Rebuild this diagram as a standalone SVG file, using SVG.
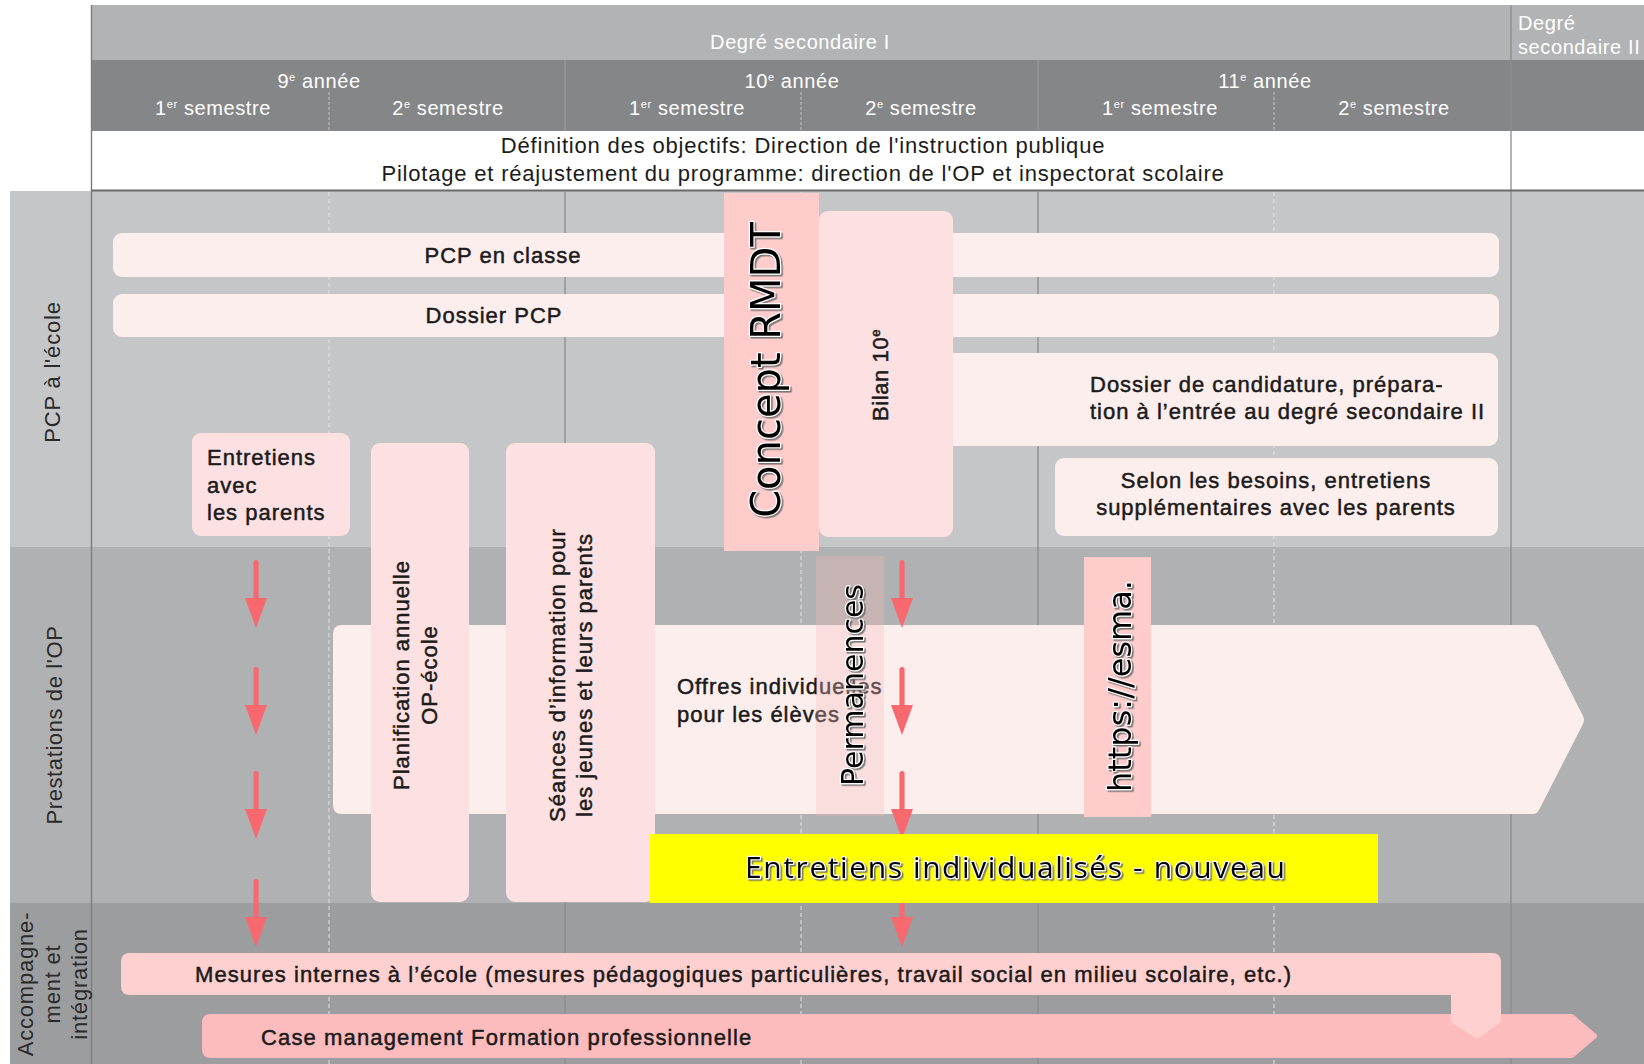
<svg xmlns="http://www.w3.org/2000/svg" width="1644" height="1064" viewBox="0 0 1644 1064">
<defs>
<style>
.t{font-family:"Liberation Sans",Arial,Helvetica,sans-serif;font-size:22px;letter-spacing:1px;fill:#1b1b1b}
.m{stroke:#1b1b1b;stroke-width:0.5px}
.h{font-family:"Liberation Sans",Arial,Helvetica,sans-serif;font-size:20px;letter-spacing:0.6px;fill:#ffffff}
.lab{font-family:"Liberation Sans",Arial,Helvetica,sans-serif;font-size:22px;letter-spacing:0.8px;fill:#2a2a2a}
.wa{font-family:"DejaVu Sans",Verdana,sans-serif;fill:#000;stroke:#fff;stroke-width:2.4px;paint-order:stroke;stroke-linejoin:round}
.wb{font-family:"Open Sans","Noto Sans",sans-serif;fill:#000;stroke:#fff;stroke-width:2.4px;paint-order:stroke;stroke-linejoin:round}
.pk1{fill:#fdeeee}
.pk2{fill:#fde1e2}
.pk3{fill:#ffcccc}
.gd{stroke:#e2e2e2;stroke-width:1;stroke-dasharray:4 3;fill:none}
.gdh{stroke:#c4c4c4;stroke-width:1;stroke-dasharray:3 2;fill:none}
.gs{stroke:#8b8c8e;stroke-width:1.3;fill:none}
.arr{fill:#f7696f}
</style>
<filter id="sh" x="-10%" y="-10%" width="130%" height="130%">
<feDropShadow dx="1.6" dy="1.6" stdDeviation="0.5" flood-color="#6e6e6e" flood-opacity="0.9"/>
</filter>
<g id="arrowShape">
<path d="M-2.6 2.6 A2.6 2.6 0 0 1 2.6 2.6 V40 H-2.6 Z"/>
<path d="M-11 38 H11 L0 68 Z"/>
</g>
</defs>

<g id="background">
<rect x="0" y="0" width="1644" height="1064" fill="#ffffff"/>
<rect x="91" y="5" width="1553" height="55" fill="#b2b3b5"/>
<rect x="91" y="60" width="1553" height="71" fill="#858688"/>
<rect x="91" y="131" width="1553" height="59" fill="#ffffff"/>
<rect x="10" y="191" width="1634" height="356" fill="#c5c6c8"/>
<rect x="10" y="547" width="1634" height="356" fill="#b0b1b3"/>
<rect x="10" y="903" width="1634" height="161" fill="#9c9d9f"/>
<line x1="565" y1="60" x2="565" y2="131" stroke="#9c9d9f" stroke-width="1"/>
<line x1="1038" y1="60" x2="1038" y2="131" stroke="#9c9d9f" stroke-width="1"/>
<line class="gdh" x1="329" y1="92" x2="329" y2="131"/>
<line class="gdh" x1="801" y1="92" x2="801" y2="131"/>
<line class="gdh" x1="1274" y1="92" x2="1274" y2="131"/>
<line class="gd" x1="329" y1="192" x2="329" y2="1064"/>
<line class="gd" x1="801" y1="192" x2="801" y2="1064"/>
<line class="gd" x1="1274" y1="192" x2="1274" y2="1064"/>
<line class="gs" x1="565" y1="192" x2="565" y2="1064"/>
<line class="gs" x1="1038" y1="192" x2="1038" y2="1064"/>
<line class="gs" x1="1511" y1="5" x2="1511" y2="1064"/>
<line x1="91.5" y1="5" x2="91.5" y2="1064" stroke="#7b7c7e" stroke-width="1.4"/>
<line x1="91" y1="190.5" x2="1644" y2="190.5" stroke="#6a6a6a" stroke-width="2"/>
</g>

<g id="header">
<text class="h" x="800" y="49" text-anchor="middle">Degré secondaire I</text>
<text class="h" x="1518" y="30">Degré</text>
<text class="h" x="1518" y="54">secondaire II</text>
<text class="h" x="319" y="88" text-anchor="middle">9<tspan font-size="11" dy="-7">e</tspan><tspan dy="7"> année</tspan></text>
<text class="h" x="792" y="88" text-anchor="middle">10<tspan font-size="11" dy="-7">e</tspan><tspan dy="7"> année</tspan></text>
<text class="h" x="1265" y="88" text-anchor="middle">11<tspan font-size="11" dy="-7">e</tspan><tspan dy="7"> année</tspan></text>
<text class="h" x="213" y="115" text-anchor="middle">1<tspan font-size="11" dy="-7">er</tspan><tspan dy="7"> semestre</tspan></text>
<text class="h" x="448" y="115" text-anchor="middle">2<tspan font-size="11" dy="-7">e</tspan><tspan dy="7"> semestre</tspan></text>
<text class="h" x="687" y="115" text-anchor="middle">1<tspan font-size="11" dy="-7">er</tspan><tspan dy="7"> semestre</tspan></text>
<text class="h" x="921" y="115" text-anchor="middle">2<tspan font-size="11" dy="-7">e</tspan><tspan dy="7"> semestre</tspan></text>
<text class="h" x="1160" y="115" text-anchor="middle">1<tspan font-size="11" dy="-7">er</tspan><tspan dy="7"> semestre</tspan></text>
<text class="h" x="1394" y="115" text-anchor="middle">2<tspan font-size="11" dy="-7">e</tspan><tspan dy="7"> semestre</tspan></text>
<text class="t" x="803" y="153" text-anchor="middle" style="letter-spacing:0.82px">Définition des objectifs: Direction de l'instruction publique</text>
<text class="t" x="803" y="181" text-anchor="middle" style="letter-spacing:0.8px">Pilotage et réajustement du programme: direction de l'OP et inspectorat scolaire</text>
</g>

<g id="lane-labels">
<text class="lab" transform="translate(60,372) rotate(-90)" text-anchor="middle">PCP à l'école</text>
<text class="lab" transform="translate(62,725) rotate(-90)" text-anchor="middle" style="letter-spacing:0.6px">Prestations de l'OP</text>
<text class="lab" transform="translate(33,984) rotate(-90)" text-anchor="middle"><tspan x="0" y="0">Accompagne-</tspan><tspan x="0" y="27">ment et</tspan><tspan x="0" y="53.5">intégration</tspan></text>
</g>

<g id="pcp-en-classe">
<rect class="pk1" x="113" y="233" width="1386" height="44" rx="9"/>
<text class="t m" x="503" y="263" text-anchor="middle">PCP en classe</text>
</g>
<g id="dossier-pcp">
<rect class="pk1" x="113" y="294" width="1386" height="43" rx="9"/>
<text class="t m" x="494" y="323" text-anchor="middle">Dossier PCP</text>
</g>
<g id="dossier-candidature">
<rect class="pk1" x="930" y="353" width="568" height="93" rx="9"/>
<text class="t m" x="1090" y="392">Dossier de candidature, prépara-</text>
<text class="t m" x="1090" y="419">tion à l’entrée au degré secondaire II</text>
</g>
<g id="entretiens-supplementaires">
<rect class="pk1" x="1055" y="458" width="443" height="78" rx="9"/>
<text class="t m" x="1276" y="488" text-anchor="middle">Selon les besoins, entretiens</text>
<text class="t m" x="1276" y="515" text-anchor="middle">supplémentaires avec les parents</text>
</g>
<g id="concept-rmdt">
<rect class="pk3" x="724" y="193" width="95" height="358"/>
<g filter="url(#sh)"><text class="wa" font-size="40" transform="translate(780,370) rotate(-90)" text-anchor="middle">Concept RMDT</text></g>
</g>
<g id="bilan-10">
<rect class="pk2" x="819" y="211" width="134" height="326" rx="9"/>
<text class="t m" transform="translate(888,375) rotate(-90)" text-anchor="middle" style="letter-spacing:0.6px">Bilan 10<tspan font-size="13" dy="-8">e</tspan></text>
</g>
<g id="entretiens-parents">
<rect class="pk2" x="192" y="433" width="158" height="103" rx="9"/>
<text class="t m" x="207" y="465">Entretiens</text>
<text class="t m" x="207" y="493">avec</text>
<text class="t m" x="207" y="520">les parents</text>
</g>
<g id="offres-individuelles">
<path class="pk1" d="M342 625 H1533 Q1537 625 1539 629 L1583 716 Q1585 720 1583 724 L1539 810 Q1537 814 1533 814 H342 Q333 814 333 805 V634 Q333 625 342 625 Z"/>
<text class="t m" x="677" y="694">Offres individuelles</text>
<text class="t m" x="677" y="722">pour les élèves</text>
</g>
<g id="planification">
<rect class="pk2" x="371" y="443" width="98" height="459" rx="9"/>
<text class="t m" transform="translate(409,675) rotate(-90)" text-anchor="middle"><tspan x="0" y="0">Planification annuelle</tspan><tspan x="0" y="28">OP-école</tspan></text>
</g>
<g id="seances-information">
<rect class="pk2" x="506" y="443" width="149" height="459" rx="9"/>
<text class="t m" transform="translate(565,675) rotate(-90)" text-anchor="middle"><tspan x="0" y="0">Séances d’information pour</tspan><tspan x="0" y="27">les jeunes et leurs parents</tspan></text>
</g>
<g id="permanences">
<rect x="816" y="556" width="68" height="260" fill="#f5baba" fill-opacity="0.32"/>
<g filter="url(#sh)"><text class="wa" font-size="30" transform="translate(863,685) rotate(-90)" text-anchor="middle">Permanences</text></g>
</g>
<g id="esma">
<rect class="pk3" x="1084" y="557" width="67" height="260"/>
<g filter="url(#sh)"><text class="wa" font-size="32" transform="translate(1131,686) rotate(-90)" text-anchor="middle">https://esma.</text></g>
</g>

<g id="connectors" class="arr">
<use href="#arrowShape" x="256" y="560"/>
<use href="#arrowShape" x="256" y="667"/>
<use href="#arrowShape" x="256" y="771"/>
<use href="#arrowShape" x="256" y="879"/>
<use href="#arrowShape" x="902" y="560"/>
<use href="#arrowShape" x="902" y="667"/>
<use href="#arrowShape" x="902" y="771"/>
<use href="#arrowShape" x="902" y="879"/>
</g>

<g id="entretiens-individualises">
<rect x="650" y="834" width="728" height="69" fill="#ffff00"/>
<g filter="url(#sh)"><text class="wb" font-size="30" x="1015" y="878" text-anchor="middle" textLength="540" lengthAdjust="spacing">Entretiens individualisés - nouveau</text></g>
</g>

<g id="case-management">
<path d="M211 1014 H1571 Q1574 1014 1576 1017 L1596 1034 Q1598 1036 1596 1038 L1576 1055 Q1574 1058 1571 1058 H211 Q202 1058 202 1049 V1023 Q202 1014 211 1014 Z" fill="#fcbcbd"/>
<text class="t m" x="261" y="1045" style="letter-spacing:1.13px">Case management Formation professionnelle</text>
</g>
<g id="mesures-internes">
<path d="M130 953 H1492 Q1501 953 1501 962 V1022 L1477 1039 L1451 1022 V995 H130 Q121 995 121 986 V962 Q121 953 130 953 Z" fill="#ffd0d0"/>
<text class="t m" x="195" y="982" style="letter-spacing:1.06px">Mesures internes à l’école (mesures pédagogiques particulières, travail social en milieu scolaire, etc.)</text>
</g>
</svg>
